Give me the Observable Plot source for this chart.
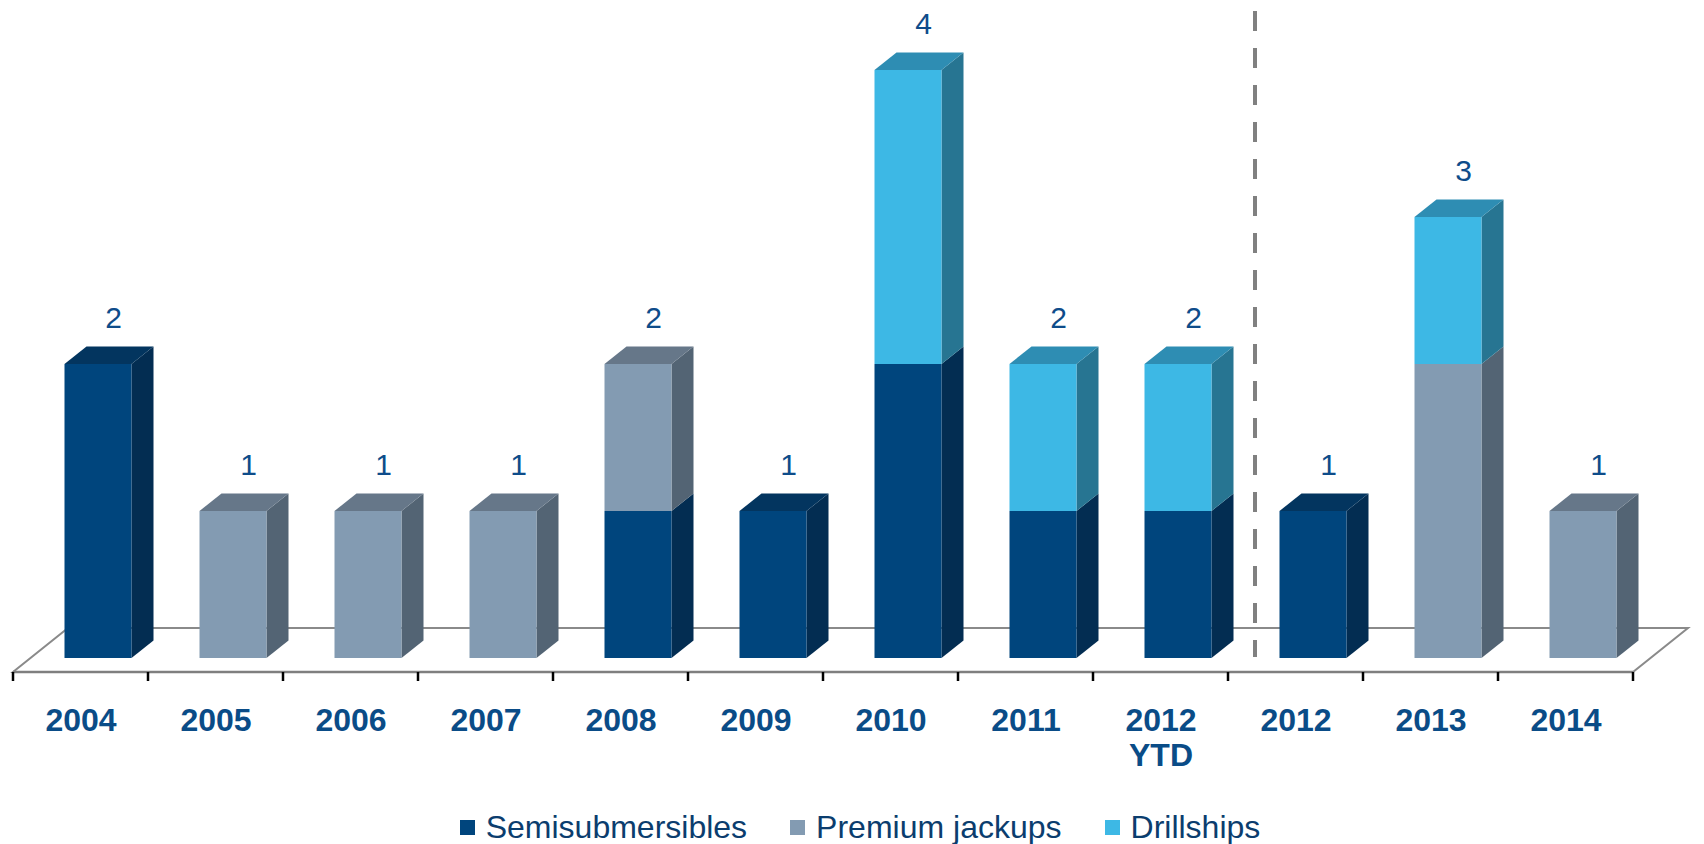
<!DOCTYPE html>
<html><head><meta charset="utf-8">
<script src="https://cdn.jsdelivr.net/npm/d3@7"></script>
<script src="https://cdn.jsdelivr.net/npm/@observablehq/plot@0.6"></script>
<style>
body{margin:0;background:#fff;font-family:"Liberation Sans",Arial,sans-serif;}
#legend{display:flex;justify-content:center;align-items:center;gap:43px;height:50px;padding-left:16px;font-size:32px;color:#0b3d6e;}
.item{display:flex;align-items:center;}
.sw{width:15px;height:15px;margin-right:11px;}
</style></head><body><div id="chart"></div><div id="legend"></div>
<script>
const categories = ["2004","2005","2006","2007","2008","2009","2010","2011","2012 YTD","2012","2013","2014"];
const tickLabels = ["2004","2005","2006","2007","2008","2009","2010","2011","2012\nYTD","2012","2013","2014"];
const semisubmersibles = [2,0,0,0,1,1,2,1,1,1,0,0];
const premiumJackups   = [0,1,1,1,1,0,0,0,0,0,2,1];
const drillships       = [0,0,0,0,0,0,2,1,1,0,1,0];
const seriesNames = ["Semisubmersibles","Premium jackups","Drillships"];
const frontColors = ["#00457d","#839bb2","#3db8e5"];
const sideColors  = ["#032d52","#536474","#277592"];
const topColors   = ["#03355f","#667789","#2e8db3"];

const seriesValues = [semisubmersibles, premiumJackups, drillships];
const totals = categories.map((c, i) => seriesValues.reduce((s, v) => s + v[i], 0));
const rows = [];
const base = categories.map(() => 0);
seriesValues.forEach((vals, si) => {
  vals.forEach((v, i) => {
    if (v > 0) {
      rows.push({category: categories[i], series: seriesNames[si], si, value: v, y0: base[i], y1: base[i] + v, top: base[i] + v === totals[i]});
      base[i] += v;
    }
  });
});
const totalRows = categories.map((c, i) => ({category: c, total: totals[i]}));

const INSET = 34, SHIFT = 17.5, DX = 22, DY = 17.5;
const FLOOR_DROP = 14, FLOOR_DX = 55, FLOOR_DY = 44;

function bw(x, dims) {
  return x.bandwidth ? x.bandwidth() : (dims.width - dims.marginLeft - dims.marginRight) / categories.length;
}

function floorMark(index, scales, values, dims) {
  const x = scales.x, y = scales.y;
  const b = bw(x, dims);
  const x0 = x(categories[0]), x1 = x(categories[categories.length - 1]) + b;
  const yf = y(0) + FLOOR_DROP;
  const g = d3.create("svg:g");
  g.append("path")
    .attr("d", `M${x0},${yf}L${x1},${yf}L${x1 + FLOOR_DX},${yf - FLOOR_DY}L${x0 + FLOOR_DX},${yf - FLOOR_DY}Z`)
    .attr("fill", "#fff").attr("stroke", "#8a8a8a").attr("stroke-width", 2);
  g.append("line").attr("x1", x0).attr("x2", x1).attr("y1", yf).attr("y2", yf)
    .attr("stroke", "#7f7f7f").attr("stroke-width", 2.5);
  for (let k = 0; k <= categories.length; k++) {
    const xt = x0 + k * b;
    g.append("line").attr("x1", xt).attr("x2", xt).attr("y1", yf).attr("y2", yf + 9)
      .attr("stroke", "#000").attr("stroke-width", 2.5);
  }
  return g.node();
}

function depthMark(index, scales, values, dims) {
  const x = scales.x, y = scales.y;
  const b = bw(x, dims);
  const g = d3.create("svg:g");
  for (const r of rows) {
    const xl = x(r.category) + INSET + SHIFT;
    const xr = x(r.category) + b - INSET + SHIFT;
    const yb = y(r.y0), yt = y(r.y1);
    g.append("path")
      .attr("d", `M${xr},${yb}L${xr + DX},${yb - DY}L${xr + DX},${yt - DY}L${xr},${yt}Z`)
      .attr("fill", sideColors[r.si]);
    if (r.top) {
      g.append("path")
        .attr("d", `M${xl},${yt}L${xl + DX},${yt - DY}L${xr + DX},${yt - DY}L${xr},${yt}Z`)
        .attr("fill", topColors[r.si]);
    }
  }
  return g.node();
}

function dividerMark(index, scales, values, dims) {
  const x = scales.x, y = scales.y;
  const xd = x("2012") + 27;
  const g = d3.create("svg:g");
  g.append("line").attr("x1", xd).attr("x2", xd).attr("y1", dims.marginTop - 59).attr("y2", y(0) - 1)
    .attr("stroke", "#808080").attr("stroke-width", 4).attr("stroke-dasharray", "20,17");
  return g.node();
}

const chart = Plot.plot({
  width: 1704, height: 802,
  marginLeft: 11, marginRight: 69, marginTop: 70, marginBottom: 144,
  x: {domain: categories, padding: 0, axis: null},
  y: {domain: [0, 4], axis: null},
  color: {domain: seriesNames, range: frontColors},
  style: {fontFamily: "'Liberation Sans', Arial, sans-serif", background: "white", overflow: "visible"},
  marks: [
    floorMark,
    depthMark,
    Plot.barY(rows, {x: "category", y1: "y0", y2: "y1", fill: "series", insetLeft: INSET, insetRight: INSET, dx: SHIFT}),
    Plot.text(totalRows, {x: "category", y: "total", text: d => String(d.total), dx: SHIFT + DX / 2 + 4, dy: -(DY + 29), fontSize: 30, fill: "#0e4c8a"}),
    dividerMark,
    Plot.axisX({tickSize: 0, tickPadding: 47, fontSize: 32, fontWeight: "bold", lineHeight: 1.1, color: "#0a4c87", label: null,
      tickFormat: d => tickLabels[categories.indexOf(d)]})
  ]
});
document.getElementById("chart").append(chart);

const legend = document.getElementById("legend");
seriesNames.forEach((name, i) => {
  const item = document.createElement("div");
  item.className = "item";
  const sw = document.createElement("span");
  sw.className = "sw";
  sw.style.background = frontColors[i];
  const t = document.createElement("span");
  t.textContent = name;
  item.append(sw, t);
  legend.append(item);
});
</script></body></html>
